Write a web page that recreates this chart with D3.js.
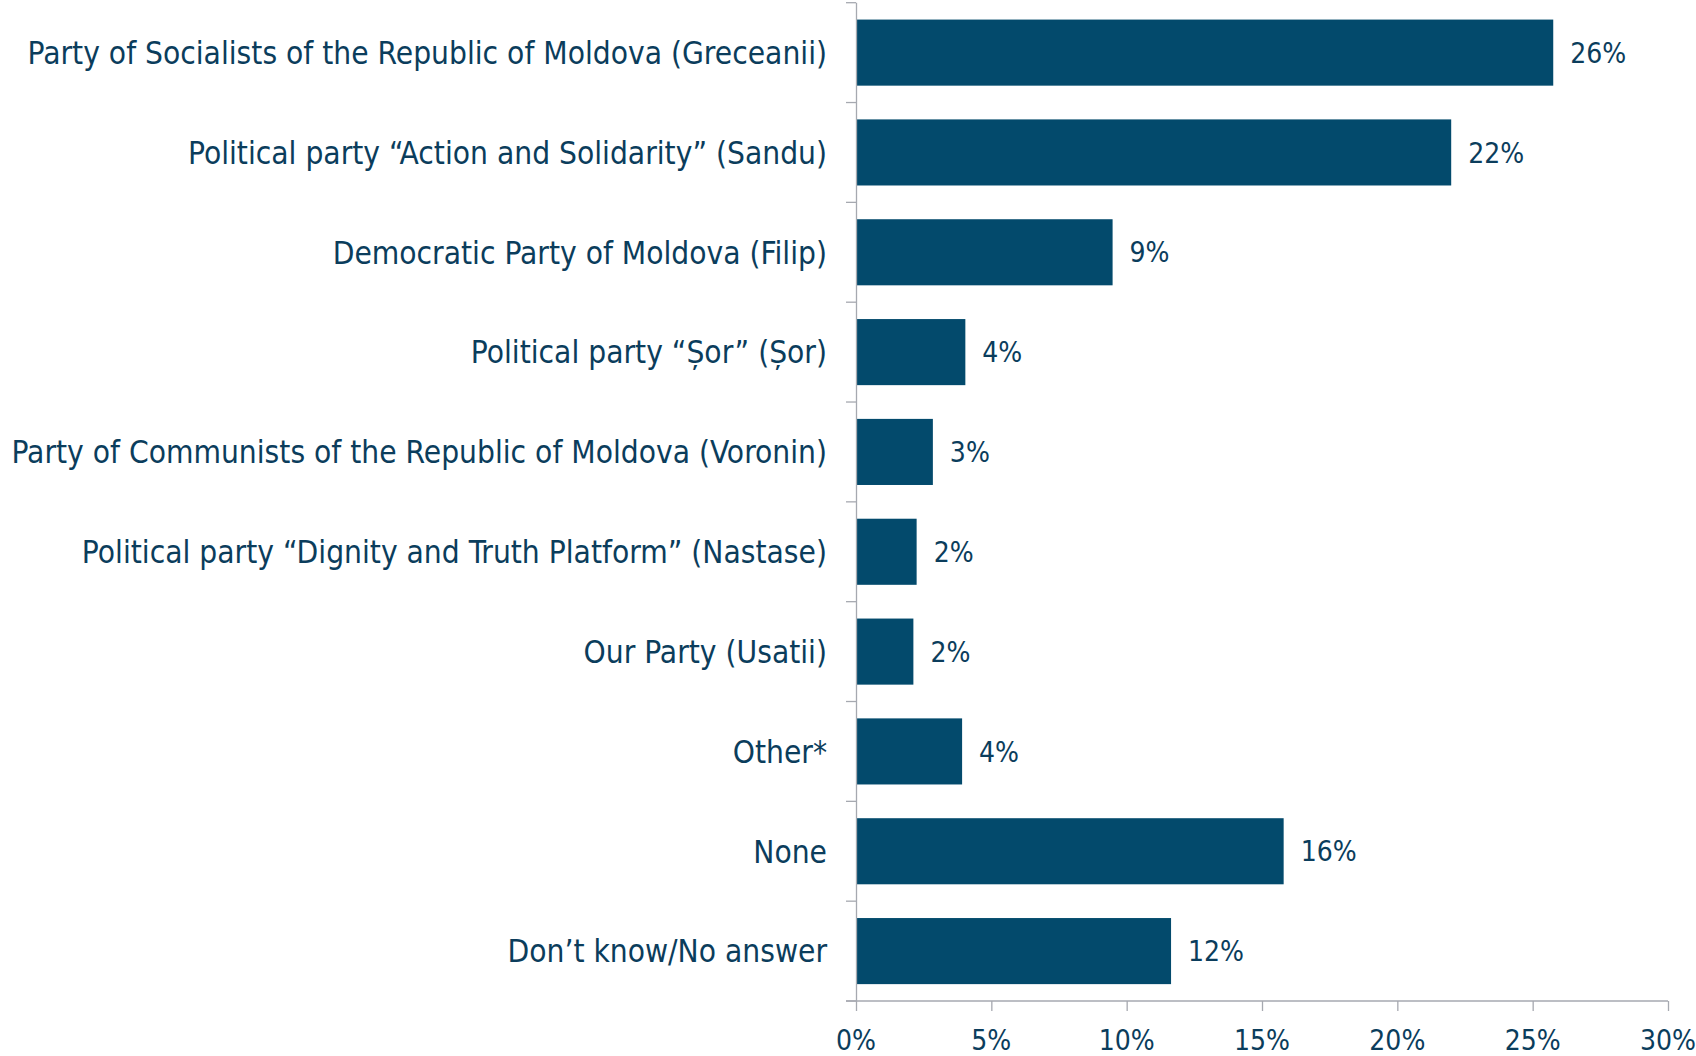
<!DOCTYPE html>
<html><head><meta charset="utf-8">
<script src="https://cdn.jsdelivr.net/npm/d3@7"></script>
<style>
html,body{margin:0;padding:0;background:#fff;}
svg text{font-family:"DejaVu Sans Condensed","DejaVu Sans",sans-serif;fill:#0b3d5c;}
</style></head>
<body><svg id="chart" width="1696" height="1056"></svg>
<script>
const categories = [
  "Party of Socialists of the Republic of Moldova (Greceanii)",
  "Political party \u201cAction and Solidarity\u201d (Sandu)",
  "Democratic Party of Moldova (Filip)",
  "Political party \u201c\u0218or\u201d (\u0218or)",
  "Party of Communists of the Republic of Moldova (Voronin)",
  "Political party \u201cDignity and Truth Platform\u201d (Nastase)",
  "Our Party (Usatii)",
  "Other*",
  "None",
  "Don\u2019t know/No answer"
];
const values = [25.76, 21.99, 9.48, 4.04, 2.84, 2.24, 2.12, 3.92, 15.8, 11.64];
const valueLabels = ["26%","22%","9%","4%","3%","2%","2%","4%","16%","12%"];
const xTicks = [0,5,10,15,20,25,30];

const svg = d3.select("#chart");
const x0 = 856, x1 = 1668, yTop = 2.7, yBot = 1001;
const fsCat = 31.4, fsNum = 28;

const x = d3.scaleLinear().domain([0,30]).range([x0,x1]);
const y = d3.scaleBand().domain(categories).range([yTop,yBot]).paddingInner(0.338).paddingOuter(0.169);

// bars
svg.append("g").selectAll("rect").data(categories).join("rect")
  .attr("x", x(0)).attr("y", d=>y(d))
  .attr("width", (d,i)=>x(values[i])-x(0)).attr("height", y.bandwidth())
  .attr("fill","#034a6c");

// value labels
svg.append("g").selectAll("text").data(categories).join("text")
  .attr("x",(d,i)=>x(values[i])+17).attr("y",d=>y(d)+y.bandwidth()/2)
  .attr("dy","0.36em").attr("font-size",fsNum).text((d,i)=>valueLabels[i]);

// y axis line + boundary ticks
const axisColor = "#a6a9b0";
svg.append("line").attr("x1",x0+0.5).attr("x2",x0+0.5).attr("y1",yTop).attr("y2",yBot)
  .attr("stroke",axisColor).attr("stroke-width",1.3);
const bounds = d3.range(categories.length+1).map(i => yTop + i*(yBot-yTop)/categories.length);
svg.append("g").selectAll("line").data(bounds).join("line")
  .attr("x1",x0-10).attr("x2",x0).attr("y1",d=>d).attr("y2",d=>d)
  .attr("stroke",axisColor).attr("stroke-width",1.3);

// category labels
svg.append("g").selectAll("text").data(categories).join("text")
  .attr("x",827).attr("y",d=>y(d)+y.bandwidth()/2).attr("dy","0.36em")
  .attr("text-anchor","end").attr("font-size",fsCat).text(d=>d);

// x axis
svg.append("line").attr("x1",x0-10).attr("x2",x1).attr("y1",yBot).attr("y2",yBot)
  .attr("stroke",axisColor).attr("stroke-width",1.3);
svg.append("g").selectAll("line").data(xTicks).join("line")
  .attr("x1",d=>x(d)+0.5).attr("x2",d=>x(d)+0.5).attr("y1",yBot).attr("y2",yBot+10)
  .attr("stroke",axisColor).attr("stroke-width",1.3);
svg.append("g").selectAll("text").data(xTicks).join("text")
  .attr("x",d=>x(d)).attr("y",1050).attr("text-anchor","middle")
  .attr("font-size",fsNum).text(d=>d+"%");
</script></body></html>
